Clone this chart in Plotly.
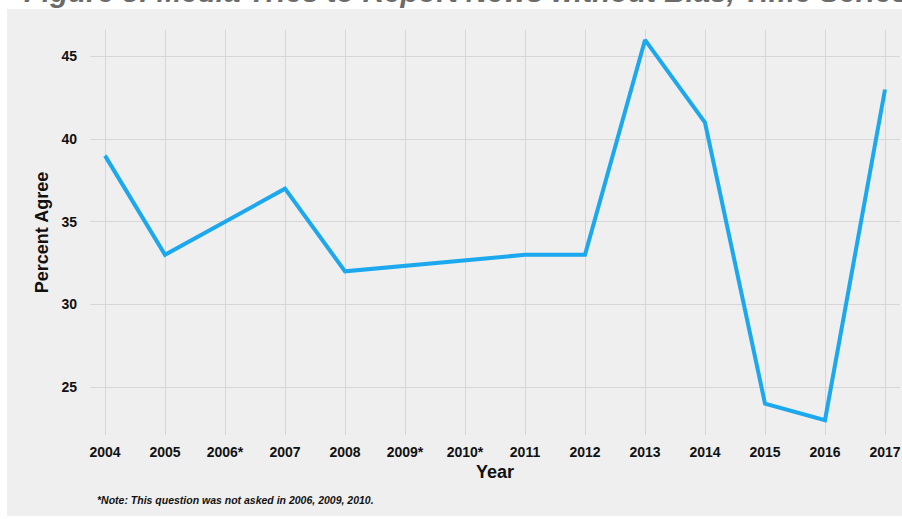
import plotly.graph_objects as go

years = [2004, 2005, 2006, 2007, 2008, 2009, 2010, 2011, 2012, 2013, 2014, 2015, 2016, 2017]
tick_labels = ["2004", "2005", "2006*", "2007", "2008", "2009*", "2010*", "2011", "2012",
               "2013", "2014", "2015", "2016", "2017"]
percent_agree = [39, 33, None, 37, 32, None, None, 33, 33, 46, 41, 24, 23, 43]

title_text = "Figure 8: Media Tries to Report News without Bias, Time Series"
note_text = "*Note: This question was not asked in 2006, 2009, 2010."

fig = go.Figure()
fig.add_trace(go.Scatter(
    x=years, y=percent_agree, mode="lines", connectgaps=True,
    line=dict(color="#1ba8ee", width=4), hoverinfo="x+y", showlegend=False,
))

FONT = "Liberation Sans, Arial, Helvetica, sans-serif"

fig.update_layout(
    width=902, height=519,
    margin=dict(l=90, r=2, t=30, b=84),
    paper_bgcolor="white",
    plot_bgcolor="#efefef",
    font=dict(family=FONT, color="#111111"),
    xaxis=dict(
        range=[2003.75, 2017.25], tickmode="array", tickvals=years, ticktext=tick_labels,
        showgrid=True, gridcolor="#d6d6d6", gridwidth=1, zeroline=False,
        showline=False, ticks="", ticklabelstandoff=7,
        tickfont=dict(family=FONT, size=14, color="#111111", weight="bold"),
        title=dict(text="<b>Year</b>", font=dict(family=FONT, size=18, color="#111111"), standoff=6),
    ),
    yaxis=dict(
        range=[22.1, 46.6], tickvals=[25, 30, 35, 40, 45],
        showgrid=True, gridcolor="#d6d6d6", gridwidth=1, zeroline=False,
        showline=False, ticks="", ticklabelstandoff=12,
        tickfont=dict(family=FONT, size=14, color="#111111", weight="bold"),
        title=dict(text="<b>Percent Agree</b>", font=dict(family=FONT, size=18, color="#111111"), standoff=8),
    ),
    shapes=[dict(
        type="rect", xref="paper", yref="paper", layer="below",
        x0=-83 / 810, x1=1.01, y0=-81 / 405, y1=1 + 21 / 405,
        fillcolor="#efefef", line=dict(width=0),
    )],
    annotations=[
        dict(text=title_text, xref="paper", yref="paper", x=-68 / 810, y=1 + 20 / 405,
             xanchor="left", yanchor="bottom", showarrow=False,
             font=dict(family=FONT, size=29.5, color="#6b6b6b", weight="bold", style="italic")),
        dict(text=note_text, xref="paper", yref="paper", x=5 / 810, y=-65 / 405,
             xanchor="left", yanchor="middle", showarrow=False,
             font=dict(family=FONT, size=10.5, color="#111111", weight="bold", style="italic")),
    ],
)

fig.write_html("out.html", config={"displayModeBar": False},
               post_script="document.body.style.margin='0';")
